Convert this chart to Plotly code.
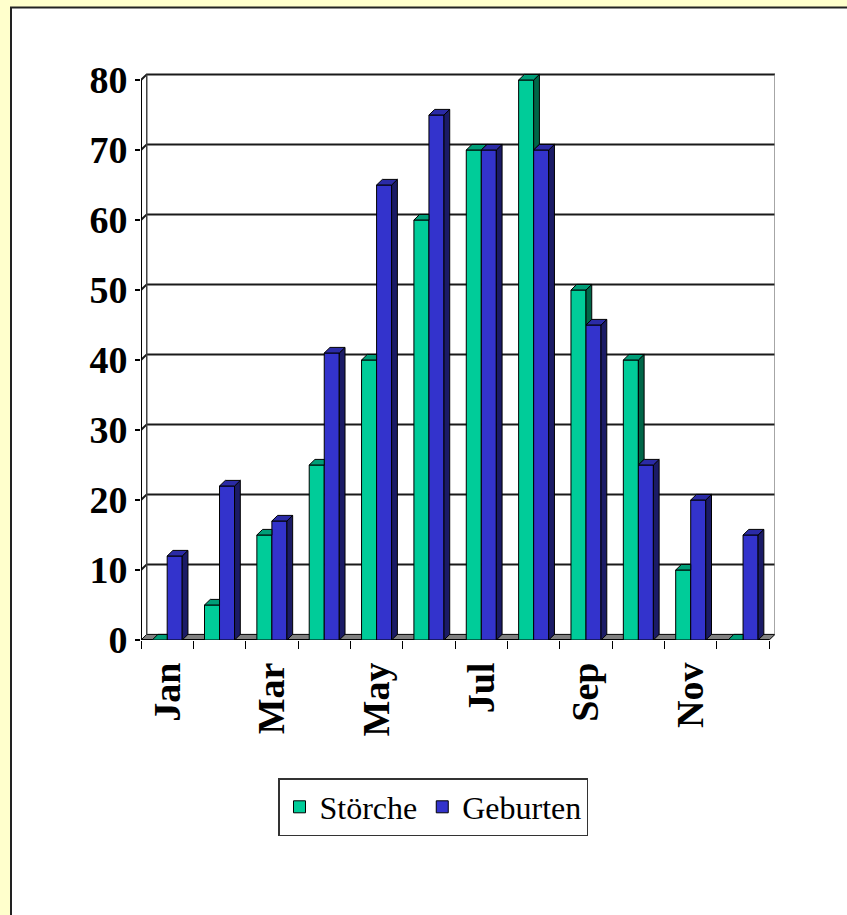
import plotly.graph_objects as go

# ---- data -----------------------------------------------------------------
months = ["Jan", "Feb", "Mar", "Apr", "May", "Jun",
          "Jul", "Aug", "Sep", "Oct", "Nov", "Dec"]
stoerche = [0, 5, 15, 25, 40, 60, 70, 80, 50, 40, 10, 0]
geburten = [12, 22, 17, 41, 65, 75, 70, 70, 45, 25, 20, 15]
y_ticks = [0, 10, 20, 30, 40, 50, 60, 70, 80]
label_months = ["Jan", "Mar", "May", "Jul", "Sep", "Nov"]
series_names = ["Störche", "Geburten"]

# ---- styling --------------------------------------------------------------
S_FRONT, S_TOP, S_SIDE = "#00CC99", "#009E78", "#006648"
G_FRONT, G_TOP, G_SIDE = "#3333CC", "#2B2BA6", "#1B1B66"
FLOOR = "#808080"
FONT = "Liberation Serif"

BAR_W = 0.287          # width of one bar, in category units
DX, DY = 0.11, 0.8     # 3-D depth offset (x in categories, y in values)

x_idx = list(range(len(months)))
X0, X1 = -0.5, len(months) - 0.5
YMAX = y_ticks[-1]

# figure geometry (pixels)
FIG_W, FIG_H = 847, 915
M_L, M_T = 141, 73
PLOT_W, PLOT_H = 634, 567
M_R = FIG_W - M_L - PLOT_W
M_B = FIG_H - M_T - PLOT_H


def px(xp):
    return (xp - M_L) / PLOT_W


def py(yp):
    return (M_T + PLOT_H - yp) / PLOT_H


def poly_trace(polys, color):
    xs, ys = [], []
    for pts in polys:
        for x, y in pts:
            xs.append(x)
            ys.append(y)
        xs.append(pts[0][0])
        ys.append(pts[0][1])
        xs.append(None)
        ys.append(None)
    return go.Scatter(x=xs, y=ys, mode="lines", fill="toself", fillcolor=color,
                      line=dict(color="black", width=1), hoverinfo="skip",
                      showlegend=False)


fig = go.Figure()

# front faces of the columns
fig.add_trace(go.Bar(x=x_idx, y=stoerche, width=BAR_W, offset=-BAR_W,
                     name=series_names[0], marker=dict(color=S_FRONT,
                     line=dict(color="black", width=1))))
fig.add_trace(go.Bar(x=x_idx, y=geburten, width=BAR_W, offset=0,
                     name=series_names[1], marker=dict(color=G_FRONT,
                     line=dict(color="black", width=1))))

# side and top faces, hidden parts left out
s_side, s_top, g_side, g_top = [], [], [], []
for i, s, g in zip(x_idx, stoerche, geburten):
    if s > g:
        s_side.append([(i, g), (i, s), (i + DX, s + DY), (i + DX, g + DY)])
    if g > s:
        s_top.append([(i - BAR_W, s), (i, s), (i, s + DY), (i - BAR_W + DX, s + DY)])
    else:
        s_top.append([(i - BAR_W, s), (i, s), (i + DX, s + DY), (i - BAR_W + DX, s + DY)])
    g_side.append([(i + BAR_W, 0), (i + BAR_W, g), (i + BAR_W + DX, g + DY), (i + BAR_W + DX, DY)])
    g_top.append([(i, g), (i + BAR_W, g), (i + BAR_W + DX, g + DY), (i + DX, g + DY)])

fig.add_trace(poly_trace(s_side, S_SIDE))
fig.add_trace(poly_trace(s_top, S_TOP))
fig.add_trace(poly_trace(g_side, G_SIDE))
fig.add_trace(poly_trace(g_top, G_TOP))

# ---- walls, floor and gridlines ----------------------------------------------
shapes = []
# white chart sheet inside the pale yellow page margin
shapes.append(dict(type="rect", xref="paper", yref="paper", layer="below",
                   x0=px(11), x1=px(FIG_W + 30), y0=py(FIG_H + 30), y1=py(7.5),
                   fillcolor="white", line=dict(width=0)))
shapes.append(dict(type="line", xref="paper", yref="paper", layer="below",
                   x0=px(11), x1=px(11), y0=py(7), y1=py(FIG_H + 30),
                   line=dict(color="#222", width=2)))
shapes.append(dict(type="line", xref="paper", yref="paper", layer="below",
                   x0=px(10), x1=px(FIG_W + 30), y0=py(7.5), y1=py(7.5),
                   line=dict(color="#222", width=2)))

shapes.append(dict(type="rect", xref="x", yref="y", layer="below",
                   x0=X0 + DX, x1=X1 + DX, y0=DY, y1=YMAX + DY,
                   fillcolor="white", line=dict(width=0)))
shapes.append(dict(type="path", xref="x", yref="y", layer="below",
                   path=f"M {X0},0 L {X1},0 L {X1 + DX},{DY} L {X0 + DX},{DY} Z",
                   fillcolor=FLOOR, line=dict(color="black", width=1)))
for v in y_ticks[1:]:
    shapes.append(dict(type="path", xref="x", yref="y", layer="below",
                       path=f"M {X0},{v} L {X0 + DX},{v + DY} L {X1 + DX},{v + DY}",
                       line=dict(color="#1a1a1a", width=2)))
shapes.append(dict(type="line", xref="x", yref="y", layer="below",
                   x0=X0 + DX, x1=X0 + DX, y0=DY, y1=YMAX + DY,
                   line=dict(color="#444", width=1.5)))
shapes.append(dict(type="line", xref="x", yref="y", layer="below",
                   x0=X1 + DX, x1=X1 + DX, y0=DY, y1=YMAX + DY,
                   line=dict(color="#888", width=1.5)))
shapes.append(dict(type="line", xref="x", yref="y", layer="below",
                   x0=X0, x1=X0, y0=0, y1=YMAX,
                   line=dict(color="black", width=2)))
shapes.append(dict(type="line", xref="x", yref="y", layer="below",
                   x0=X0, x1=X1, y0=0, y1=0,
                   line=dict(color="black", width=2)))

fig.update_layout(
    width=FIG_W, height=FIG_H, autosize=False,
    margin=dict(l=M_L, r=M_R, t=M_T, b=M_B, pad=0),
    paper_bgcolor="#FFFFCC", plot_bgcolor="rgba(0,0,0,0)",
    barmode="overlay", shapes=shapes,
    font=dict(family=FONT, color="black"),
    showlegend=True,
    legend=dict(orientation="h", x=px(433), xanchor="center",
                y=py(778), yanchor="top", bgcolor="white",
                bordercolor="#333", borderwidth=1.5,
                font=dict(family=FONT, size=32, color="black"),
                traceorder="normal"),
    xaxis=dict(range=[X0, X1 + DX], tickmode="array",
               tickvals=[months.index(m) for m in label_months],
               ticktext=label_months, tickangle=-90, ticks="",
               ticklabelstandoff=14,
               tickfont=dict(family=FONT, size=38, weight="bold"),
               minor=dict(tickmode="array",
                          tickvals=[X0 + k for k in range(len(months) + 1)],
                          ticks="outside", ticklen=8, tickcolor="black",
                          tickwidth=1),
               showgrid=False, zeroline=False, showline=False,
               fixedrange=True, automargin=False),
    yaxis=dict(range=[0, YMAX + 1], tickmode="array", tickvals=y_ticks,
               ticks="outside", ticklen=5, tickcolor="black", tickwidth=1.5,
               tickfont=dict(family=FONT, size=38, weight="bold"),
               showgrid=False, zeroline=False, showline=False,
               fixedrange=True, automargin=False),
)

fig.write_html("out.html")
